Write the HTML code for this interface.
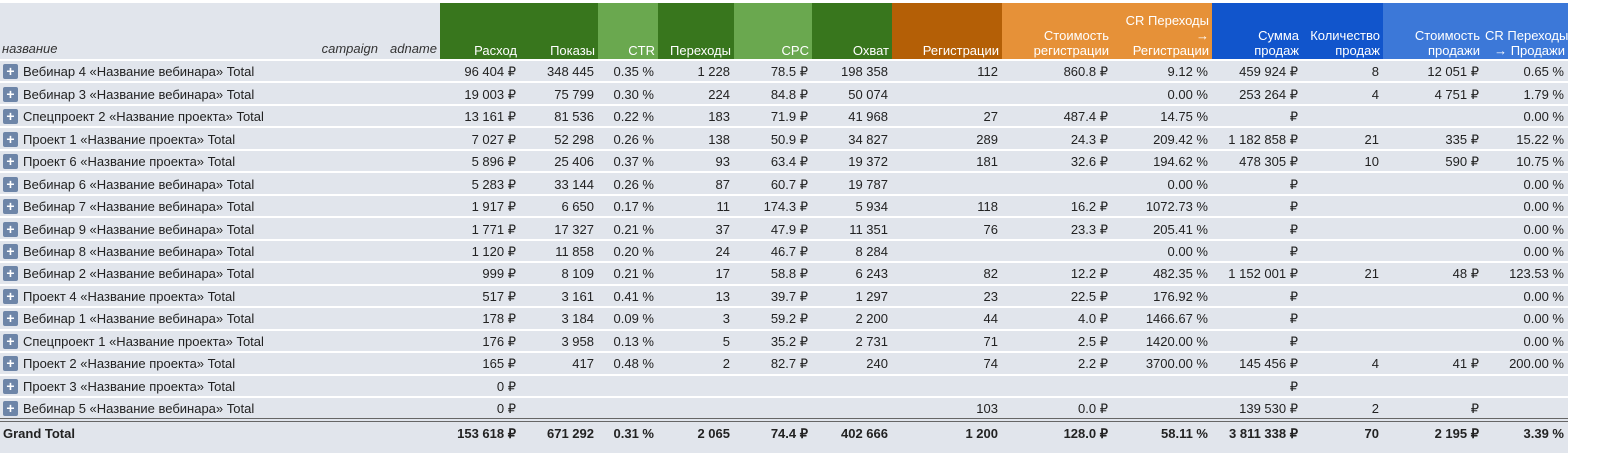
<!DOCTYPE html>
<html><head><meta charset="utf-8">
<style>
body{margin:0;width:1600px;height:453px;background:#fff;overflow:hidden;font-family:"Liberation Sans",Arial,sans-serif;font-size:13px;color:#222}
#wrap{position:absolute;left:0;top:3px;width:1568px;height:450px;background:#e1e5ec}
table{border-collapse:collapse;table-layout:fixed;position:absolute;left:0;top:0;width:1568px}
td,th{padding:0 4px;white-space:nowrap;overflow:hidden;text-align:right;box-sizing:border-box}
th{height:57px;vertical-align:bottom;font-weight:normal;color:#fff;line-height:15px;padding:0 3px 1px 2px}
th.n{color:#333;font-style:italic;text-align:left;background:#e1e5ec;padding-bottom:3px}
tbody tr{height:22.47px}
tbody td{border-top:2px solid #fff;vertical-align:middle;line-height:16px;padding-top:2px}
td.name{text-align:left;padding-left:3px}
.plus{display:inline-block;width:15px;height:15px;background:#6d85a8;color:#fff;border-radius:2px;text-align:center;line-height:15px;font-weight:bold;font-size:14px;vertical-align:top;margin-right:5px}
tr.gt{height:25px}
tr.gt td{font-weight:bold;border-top:4px double #666}
.dg{background:#38761d}.lg{background:#6aa84f}.do{background:#b45f06}.or{background:#e69138}.db{background:#1155cc}.lb{background:#3c78d8}
</style></head><body>
<div id="wrap">
<table id="t">
<colgroup><col style="width:313px"><col style="width:68px"><col style="width:59px"><col style="width:80px"><col style="width:78px"><col style="width:60px"><col style="width:76px"><col style="width:78px"><col style="width:80px"><col style="width:110px"><col style="width:110px"><col style="width:100px"><col style="width:90px"><col style="width:81px"><col style="width:100px"><col style="width:85px"></colgroup>
<thead><tr>
<th class="n">название</th>
<th class="n" style="text-align:right">campaign</th>
<th class="n" style="text-align:right">adname</th>
<th class="dg">Расход</th>
<th class="dg">Показы</th>
<th class="lg">CTR</th>
<th class="dg">Переходы</th>
<th class="lg">CPC</th>
<th class="dg">Охват</th>
<th class="do">Регистрации</th>
<th class="or">Стоимость<br>регистрации</th>
<th class="or">CR Переходы<br>→<br>Регистрации</th>
<th class="db">Сумма<br>продаж</th>
<th class="db">Количество<br>продаж</th>
<th class="lb">Стоимость<br>продажи</th>
<th class="lb">CR Переходы<br>→ Продажи</th>
</tr></thead>
<tbody id="tb"></tbody>
</table>
</div>
<script>
const names=["Вебинар 4 «Название вебинара» Total","Вебинар 3 «Название вебинара» Total","Спецпроект 2 «Название проекта» Total","Проект 1 «Название проекта» Total","Проект 6 «Название проекта» Total","Вебинар 6 «Название вебинара» Total","Вебинар 7 «Название вебинара» Total","Вебинар 9 «Название вебинара» Total","Вебинар 8 «Название вебинара» Total","Вебинар 2 «Название вебинара» Total","Проект 4 «Название проекта» Total","Вебинар 1 «Название вебинара» Total","Спецпроект 1 «Название проекта» Total","Проект 2 «Название проекта» Total","Проект 3 «Название проекта» Total","Вебинар 5 «Название вебинара» Total"];
const spend=["96 404 ₽","19 003 ₽","13 161 ₽","7 027 ₽","5 896 ₽","5 283 ₽","1 917 ₽","1 771 ₽","1 120 ₽","999 ₽","517 ₽","178 ₽","176 ₽","165 ₽","0 ₽","0 ₽"];
const impressions=["348 445","75 799","81 536","52 298","25 406","33 144","6 650","17 327","11 858","8 109","3 161","3 184","3 958","417","",""];
const ctr=["0.35 %","0.30 %","0.22 %","0.26 %","0.37 %","0.26 %","0.17 %","0.21 %","0.20 %","0.21 %","0.41 %","0.09 %","0.13 %","0.48 %","",""];
const clicks=["1 228","224","183","138","93","87","11","37","24","17","13","3","5","2","",""];
const cpc=["78.5 ₽","84.8 ₽","71.9 ₽","50.9 ₽","63.4 ₽","60.7 ₽","174.3 ₽","47.9 ₽","46.7 ₽","58.8 ₽","39.7 ₽","59.2 ₽","35.2 ₽","82.7 ₽","",""];
const reach=["198 358","50 074","41 968","34 827","19 372","19 787","5 934","11 351","8 284","6 243","1 297","2 200","2 731","240","",""];
const regs=["112","","27","289","181","","118","76","","82","23","44","71","74","","103"];
const regCost=["860.8 ₽","","487.4 ₽","24.3 ₽","32.6 ₽","","16.2 ₽","23.3 ₽","","12.2 ₽","22.5 ₽","4.0 ₽","2.5 ₽","2.2 ₽","","0.0 ₽"];
const crRegs=["9.12 %","0.00 %","14.75 %","209.42 %","194.62 %","0.00 %","1072.73 %","205.41 %","0.00 %","482.35 %","176.92 %","1466.67 %","1420.00 %","3700.00 %","",""];
const salesSum=["459 924 ₽","253 264 ₽","₽","1 182 858 ₽","478 305 ₽","₽","₽","₽","₽","1 152 001 ₽","₽","₽","₽","145 456 ₽","₽","139 530 ₽"];
const salesCount=["8","4","","21","10","","","","","21","","","","4","","2"];
const saleCost=["12 051 ₽","4 751 ₽","","335 ₽","590 ₽","","","","","48 ₽","","","","41 ₽","","₽"];
const crSales=["0.65 %","1.79 %","0.00 %","15.22 %","10.75 %","0.00 %","0.00 %","0.00 %","0.00 %","123.53 %","0.00 %","0.00 %","0.00 %","200.00 %","",""];
const totals=["153 618 ₽","671 292","0.31 %","2 065","74.4 ₽","402 666","1 200","128.0 ₽","58.11 %","3 811 338 ₽","70","2 195 ₽","3.39 %"];
const cols=[spend,impressions,ctr,clicks,cpc,reach,regs,regCost,crRegs,salesSum,salesCount,saleCost,crSales];
const tb=document.getElementById('tb');
names.forEach((n,i)=>{
  const tr=document.createElement('tr');
  
  
  let h='<td class="name" colspan="3"><span class="plus">+</span>'+n+'</td>';
  cols.forEach(c=>{h+='<td>'+c[i]+'</td>';});
  tr.innerHTML=h;
  tb.appendChild(tr);
});
const gt=document.createElement('tr');
gt.className='gt';


let g='<td class="name" colspan="3">Grand Total</td>';
totals.forEach(v=>{g+='<td>'+v+'</td>';});
gt.innerHTML=g;
tb.appendChild(gt);
</script>
</body></html>
